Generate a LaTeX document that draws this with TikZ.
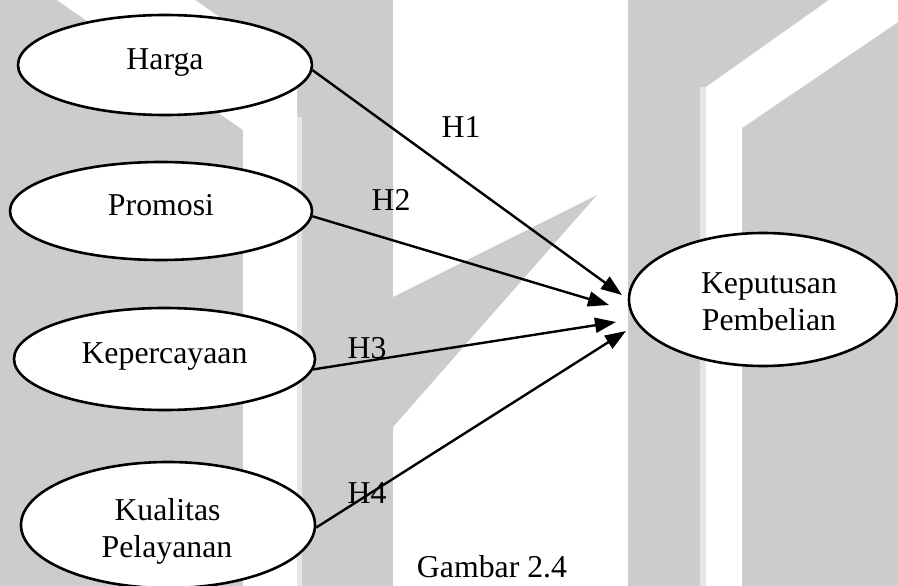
\documentclass[tikz,border=0pt]{standalone}
\usepackage{fontspec}
\setmainfont{Liberation Serif}
\usetikzlibrary{shapes.geometric,arrows.meta}
\definecolor{wmgray}{HTML}{CCCCCC}
\definecolor{wmlight}{HTML}{E6E6E6}
\begin{document}
\begin{tikzpicture}[x=1pt,y=-1pt,
  var/.style={ellipse,draw,line width=2.6pt,fill=white,inner sep=0pt},
  txt/.style={font=\fontsize{31.8}{37}\selectfont,inner sep=0pt,anchor=base},
  conn/.style={line width=2.4pt,-{Triangle[length=21pt,width=15pt]}}]
\useasboundingbox (0,0) rectangle (898,586);
% watermark background
\fill[wmgray] (0,0) rectangle (898,586);
\fill[white] (57,0) -- (195,0) -- (297,71) -- (297,586) -- (243,586) -- (243,130) -- cycle;
\fill[wmlight] (297,117) rectangle (302,586);
\fill[white] (393,0) rectangle (628,586);
\fill[wmgray] (393,297) -- (597,195) -- (393,427) -- cycle;
\fill[wmlight] (700,87) rectangle (706,586);
\fill[white] (706,87) -- (829,0) -- (898,0) -- (898,22) -- (742,128) -- (742,586) -- (706,586) -- cycle;
% variables
\node[var,minimum width=294pt,minimum height=100pt] (harga) at (165,65) {};
\node[var,minimum width=302pt,minimum height=98pt] (promosi) at (161,211) {};
\node[var,minimum width=301pt,minimum height=102pt] (keper) at (164.5,359) {};
\node[var,minimum width=294pt,minimum height=126pt] (kual) at (168,525) {};
\node[var,minimum width=268pt,minimum height=133pt] (kep) at (763,299.5) {};
\node[txt] (hargaT) at (165,70) {Harga};
\node[txt] (promosiT) at (161,215) {Promosi};
\node[txt] (keperT) at (164.5,363) {Kepercayaan};
\node[txt] (kualT1) at (167.5,520) {Kualitas};
\node[txt] (kualT2) at (167,557) {Pelayanan};
\node[txt] (kepT1) at (769,293) {Keputusan};
\node[txt] (kepT2) at (769,330) {Pembelian};
% arrow tips
\coordinate (t1) at (622,295);
\coordinate (t2) at (609,305);
\coordinate (t3) at (616,322);
\coordinate (t4) at (626,331);
\draw[conn] (harga.-2) -- (t1);
\draw[conn] (promosi.-2.3) -- (t2);
\draw[conn] (keper.-4.2) -- (t3);
\draw[conn] (kual.-1.6) -- (t4);
% labels
\node[txt] (h1) at (461,137) {H1};
\node[txt] (h2) at (391,210) {H2};
\node[txt] (h3) at (367,358) {H3};
\node[txt] (h4) at (367,503) {H4};
\node[txt] (cap) at (492,577) {Gambar 2.4};
\end{tikzpicture}
\end{document}
